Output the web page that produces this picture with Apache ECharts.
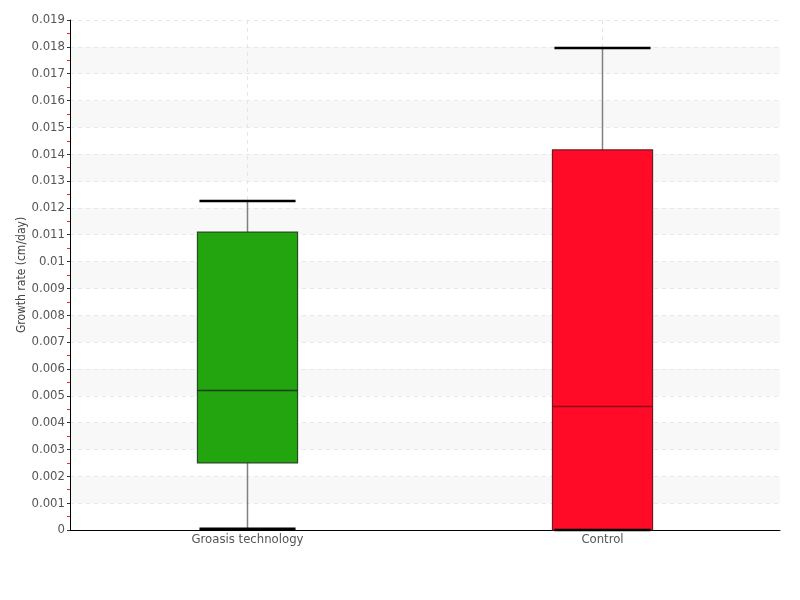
<!DOCTYPE html>
<html><head><meta charset="utf-8">
<script src="https://cdn.jsdelivr.net/npm/echarts@6/dist/echarts.min.js"></script>
<style>html,body{margin:0;padding:0;background:#fff}#c{width:800px;height:600px}</style>
</head><body><div id="c"></div>
<script>
var categories = ['Groasis technology', 'Control'];
// [min, Q1, median, Q3, max]
var groasisBox = [0.00005, 0.0025, 0.0052, 0.0111, 0.01226];
var controlBox = [0.0, 0.0, 0.0046, 0.01416, 0.01796];
var fillColors = ['#22a50f', '#ff0b28'];
var borderColors = ['#2a4a28', '#6e1a1e'];
var medianColors = ['#1c3a18', '#8a0c1a'];
var yMin = 0, yMax = 0.019, yStep = 0.001;

var boxes = [groasisBox, controlBox];
var seriesData = boxes.map(function (b, i) { return [i].concat(b); });

var font = 'DejaVu Sans Condensed, Liberation Sans Narrow, sans-serif';
var chart = echarts.init(document.getElementById('c'));
chart.setOption({
  animation: false,
  grid: { left: 70, right: 20, top: 20, bottom: 70 },
  xAxis: [{
    type: 'category', data: categories,
    axisLine: { lineStyle: { color: '#000', width: 1 } },
    axisTick: { show: false },
    axisLabel: { color: '#555', fontFamily: font, fontSize: 13, margin: 3 },
    splitLine: { show: false }
  }, {
    type: 'category', data: ['a', 'b', 'c', 'd', 'e'], boundaryGap: false,
    position: 'bottom', show: true,
    axisLine: { show: false }, axisTick: { show: false }, axisLabel: { show: false },
    splitLine: { show: true, interval: function (i) { return i === 1 || i === 3; },
      lineStyle: { color: '#e6e6e6', type: [4, 4] } }
  }],
  yAxis: {
    type: 'value', min: yMin, max: yMax, interval: yStep,
    name: 'Growth rate (cm/day)', nameLocation: 'middle', nameGap: 42, nameMoveOverlap: false,
    nameTextStyle: { color: '#444', fontFamily: font, fontSize: 12 },
    axisLine: { show: true, lineStyle: { color: '#000' } },
    axisTick: { show: true, length: 3, lineStyle: { color: '#333' } },
    minorTick: { show: true, splitNumber: 2, length: 3, lineStyle: { color: '#ff2020', width: 1 } },
    axisLabel: { color: '#555', fontFamily: font, fontSize: 13, margin: 5 },
    splitLine: { show: true, lineStyle: { color: '#e8e8e8', type: [4, 4] } },
    splitArea: { show: true, areaStyle: { color: ['rgba(255,255,255,0)', '#f8f8f8'] } }
  },
  series: [{
    type: 'custom', xAxisIndex: 0, yAxisIndex: 0,
    data: seriesData,
    encode: { x: 0, y: [1, 2, 3, 4, 5] },
    renderItem: function (params, api) {
      var idx = api.value(0);
      var pMin = api.coord([idx, api.value(1)]);
      var pQ1 = api.coord([idx, api.value(2)]);
      var pMed = api.coord([idx, api.value(3)]);
      var pQ3 = api.coord([idx, api.value(4)]);
      var pMax = api.coord([idx, api.value(5)]);
      var band = api.size([1, 0])[0];
      var bw = band * 0.282;
      var cw = bw * 0.96;
      var cx = pMed[0];
      var i = params.dataIndex;
      return { type: 'group', children: [
        { type: 'line', shape: { x1: cx, y1: pMax[1], x2: cx, y2: pQ3[1] }, style: { stroke: '#808080', lineWidth: 1.5 } },
        { type: 'line', shape: { x1: cx, y1: pQ1[1], x2: cx, y2: pMin[1] }, style: { stroke: '#808080', lineWidth: 1.5 } },
        { type: 'rect', shape: { x: cx - bw / 2, y: pQ3[1], width: bw, height: pQ1[1] - pQ3[1] },
          style: { fill: fillColors[i], stroke: borderColors[i], lineWidth: 1.2 } },
        { type: 'line', shape: { x1: cx - bw / 2, y1: pMed[1], x2: cx + bw / 2, y2: pMed[1] }, style: { stroke: medianColors[i], lineWidth: 1.5 } },
        { type: 'line', shape: { x1: cx - cw / 2, y1: pMax[1], x2: cx + cw / 2, y2: pMax[1] }, style: { stroke: '#000', lineWidth: 2.5 } },
        { type: 'line', shape: { x1: cx - cw / 2, y1: pMin[1], x2: cx + cw / 2, y2: pMin[1] }, style: { stroke: '#000', lineWidth: 2.5 } }
      ] };
    }
  }]
});
</script></body></html>
